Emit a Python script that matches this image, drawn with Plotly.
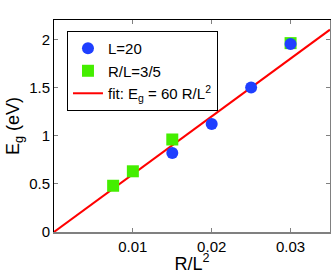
import plotly.graph_objects as go

L20_x = [0.015, 0.02, 0.025, 0.03]
L20_y = [0.82, 1.12, 1.50, 1.95]
RL_x = [0.0075, 0.01, 0.015, 0.03]
RL_y = [0.48, 0.63, 0.96, 1.96]
fit_x = [0.0, 0.035]
fit_slope = 60
fit_y = [fit_slope * v for v in fit_x]
x_ticks = [0.01, 0.02, 0.03]
y_ticks = [0, 0.5, 1, 1.5, 2]

font = dict(family="Liberation Sans, Arial, sans-serif", size=15, color="black")

fig = go.Figure()
fig.add_trace(go.Scatter(x=fit_x, y=fit_y, mode="lines", line=dict(color="#ff0000", width=2),
                         name="fit: E<sub>g</sub> = 60 R/L<sup>2</sup>", legendrank=3))
fig.add_trace(go.Scatter(x=RL_x, y=RL_y, mode="markers",
                         marker=dict(symbol="square", size=12, color="#44ee00"),
                         name="R/L=3/5", legendrank=2))
fig.add_trace(go.Scatter(x=L20_x, y=L20_y, mode="markers",
                         marker=dict(symbol="circle", size=12, color="#1f3fff"),
                         name="L=20", legendrank=1))

xr = [0, 0.035]
yr = [0, 2.2]
fig.update_layout(
    width=332, height=274,
    margin=dict(l=54, r=2, t=20, b=42, autoexpand=False),
    paper_bgcolor="white", plot_bgcolor="white",
    font=font,
    showlegend=True,
    legend=dict(x=0.047, y=0.948, xanchor="left", yanchor="top",
                bordercolor="black", borderwidth=1, bgcolor="white",
                font=dict(size=15), itemwidth=30, tracegroupgap=0),
    xaxis=dict(range=xr, tickvals=x_ticks, ticktext=["0.01", "0.02", "0.03"],
               ticks="inside", ticklen=4, tickcolor="gray", automargin=False,
               showline=True, linecolor="gray", linewidth=2,
               showgrid=False, zeroline=False,
               title=dict(text="R/L<sup>2</sup>", standoff=0)),
    yaxis=dict(range=yr, tickvals=y_ticks, ticktext=["0", "0.5", "1", "1.5", "2"],
               ticks="inside", ticklen=4, tickcolor="gray", automargin=False,
               showline=True, linecolor="black", linewidth=1,
               showgrid=False, zeroline=False,
               title=dict(text="E<sub>g</sub> (eV)", standoff=4)),
    xaxis2=dict(range=xr, overlaying="x", side="top", tickvals=x_ticks, automargin=False,
                showticklabels=False, ticks="inside", ticklen=4, tickcolor="gray",
                showline=True, linecolor="black", linewidth=1, showgrid=False, zeroline=False),
    yaxis2=dict(range=yr, overlaying="y", side="right", tickvals=y_ticks, automargin=False,
                showticklabels=False, ticks="inside", ticklen=4, tickcolor="gray",
                showline=True, linecolor="gray", linewidth=1, showgrid=False, zeroline=False),
)
fig.add_trace(go.Scatter(x=[None], y=[None], xaxis="x2", yaxis="y2", showlegend=False, hoverinfo="skip"))

fig.write_html("out.html",
               config={"displayModeBar": False},
               post_script="document.body.style.margin='0';document.body.style.overflow='hidden';")
